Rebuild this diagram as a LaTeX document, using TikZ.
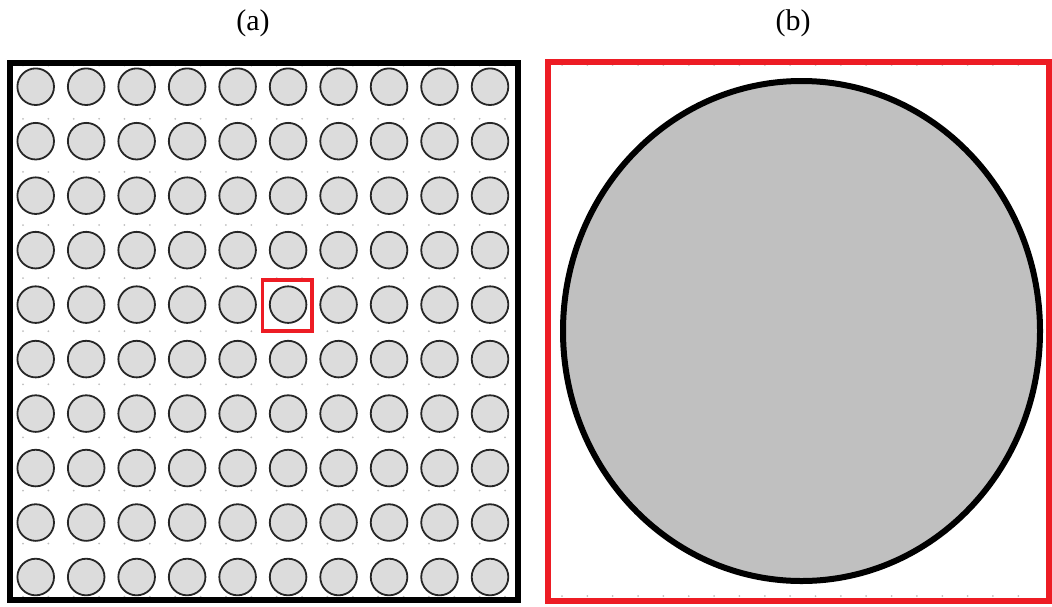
\documentclass[tikz,border=0pt]{standalone}
\usepackage{fontspec}
\setmainfont{Liberation Serif}
\definecolor{frameRed}{HTML}{ED1C24}
\definecolor{cellFill}{HTML}{DCDCDC}
\definecolor{bigFill}{HTML}{C0C0C0}
\begin{document}
\begin{tikzpicture}[x=1pt,y=-1pt,
  cell/.style={draw=black!85, line width=1.8pt, fill=cellFill},
  gridtick/.style={fill=black!25},
  caption/.style={font=\fontsize{30}{34}\selectfont, inner sep=0pt}]
\useasboundingbox (0,0) rectangle (1052,606);

% panel (a): faint lattice marks behind the particles
\foreach \i in {0,...,19}
  \foreach \j in {0,...,10}
    \fill[gridtick] ({23+\i*25.37},{65.7+\j*53.1}) circle (1pt);

% panel (a): 10 x 10 array of particles
\foreach \i in {0,...,9}
  \foreach \j in {0,...,9}
    \draw[cell] ({35.7+\i*50.48},{86.7+\j*54.48}) circle (18.3pt);

% panel (a): outer frame and highlighted unit cell
\draw[line width=6pt] (9.5,62.5) rectangle (517.5,599.5);
\draw[frameRed, line width=3.5pt] (262.5,280) rectangle (312,331);

% panel (b): enlarged unit cell
\foreach \i in {0,...,18} {
  \fill[gridtick] ({562+\i*25.35},65) circle (1pt);
  \fill[gridtick] ({562+\i*25.35},596) circle (1pt);
}
\draw[line width=6pt, fill=bigFill] (801.5,331) ellipse [x radius=238.5pt, y radius=250pt];
\draw[frameRed, line width=6pt] (548,61.5) rectangle (1049,600.5);

% captions
\node[caption] (capA) at (253,23.5) {(a)};
\node[caption] (capB) at (793,23.5) {(b)};
\end{tikzpicture}
\end{document}
